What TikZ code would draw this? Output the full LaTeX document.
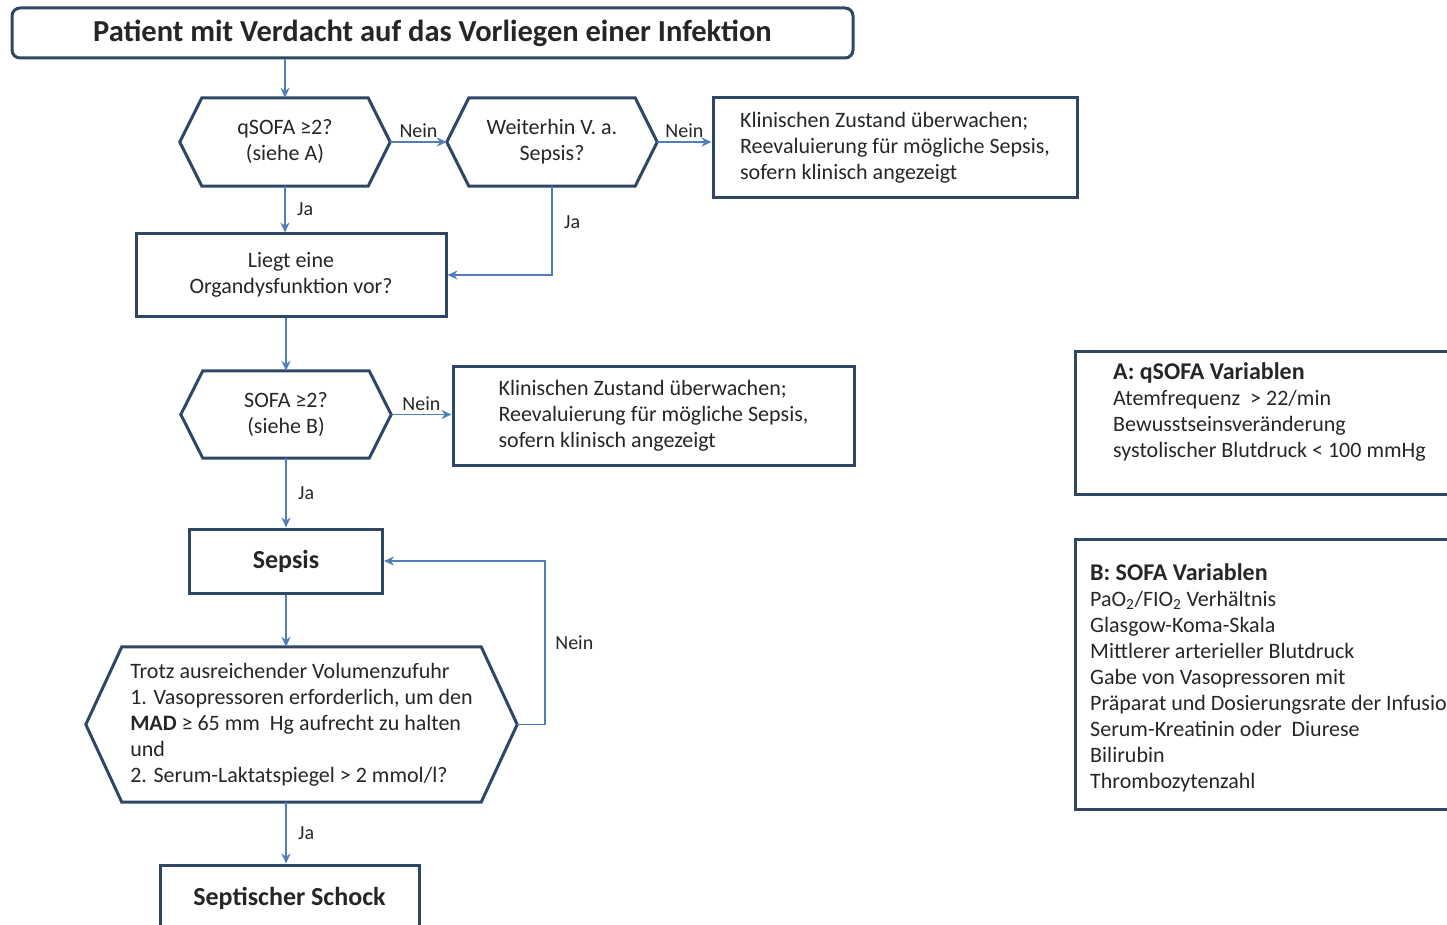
\documentclass[tikz,border=0pt]{standalone}
\usepackage{fontspec}
\setmainfont{Carlito}
\usetikzlibrary{arrows,arrows.meta,positioning}
\definecolor{framecol}{HTML}{2E4765}
\definecolor{flowcol}{HTML}{4F7FB8}
\definecolor{inkcol}{HTML}{262626}
\tikzstyle{flow} = [line width=1.6pt,->,>={Stealth[length=10pt,width=9pt]},draw=flowcol]
\tikzstyle{box} = [draw=framecol, line width=3pt, rectangle, text=inkcol, align=center, inner sep=0pt]
\tikzstyle{hexnode} = [rectangle, inner sep=0pt, text=inkcol, align=center]
\tikzstyle{lbl} = [text=inkcol, font=\fontsize{20}{24}\selectfont]
\newcommand{\hexframe}[2]{%
  \draw[draw=framecol, line width=3pt, line join=miter] (#1.west) -- ([xshift=#2]#1.north west) -- ([xshift=-#2]#1.north east) -- (#1.east) -- ([xshift=-#2]#1.south east) -- ([xshift=#2]#1.south west) -- cycle;}

\begin{document}
\begin{tikzpicture}[x=1pt, y=-1pt, font=\fontsize{22}{26}\selectfont]

	\useasboundingbox (0,0) rectangle (1447,925);
	\clip (0,0) rectangle (1447,925);

	\node[box, rounded corners=8pt, minimum width=841, minimum height=50, font=\fontsize{30.5}{34}\selectfont\bfseries] (patient) at (432.5,33) {Patient mit Verdacht auf das Vorliegen einer Infektion};

	\node[hexnode, minimum width=210, minimum height=88] (qsofa) at (285,142) {qSOFA ≥2?\\(siehe A)};
	\hexframe{qsofa}{22pt}
	\node[hexnode, minimum width=210, minimum height=88] (weiter) at (552,142) {Weiterhin V. a.\\Sepsis?};
	\hexframe{weiter}{22pt}
	\node[box, align=left, minimum width=364, minimum height=100] (watch1) at (895,148) {Klinischen Zustand überwachen;\\Reevaluierung für mögliche Sepsis,\\sofern klinisch angezeigt};

	\node[box, minimum width=310, minimum height=82] (organ) at (291,275) {Liegt eine\\Organdysfunktion vor?};

	\node[hexnode, minimum width=210, minimum height=87] (sofa) at (286,414.5) {SOFA ≥2?\\(siehe B)};
	\hexframe{sofa}{22pt}
	\node[box, align=left, minimum width=401, minimum height=99] (watch2) at (653.5,415.5) {Klinischen Zustand überwachen;\\Reevaluierung für mögliche Sepsis,\\sofern klinisch angezeigt};

	\node[box, minimum width=193, minimum height=64, font=\fontsize{26}{30}\selectfont\bfseries] (sepsis) at (286,561) {Sepsis};

	\node[hexnode, align=left, minimum width=431, minimum height=155] (volume) at (301.5,724.5) {Trotz ausreichender Volumenzufuhr\\1. Vasopressoren erforderlich, um den\\\textbf{MAD} ≥ 65 mm\ \ Hg aufrecht zu halten\\und\\2. Serum-Laktatspiegel > 2 mmol/l?};
	\hexframe{volume}{36pt}

	\node[box, minimum width=259, minimum height=66, font=\fontsize{26}{30}\selectfont\bfseries] (shock) at (289.5,898) {Septischer Schock};

	% legend boxes
	\node[box, minimum width=415, minimum height=143] (qvar) at (1282.5,422.5) {};
	\node[anchor=north west, align=left, inner sep=0pt, text=inkcol] (qvartext) at (1113,362) {{\fontsize{24}{26}\selectfont\bfseries A: qSOFA Variablen}\\Atemfrequenz\ \ > 22/min\\Bewusstseinsveränderung\\systolischer Blutdruck < 100 mmHg};

	\node[box, minimum width=415, minimum height=270] (svar) at (1282.5,674) {};
	\node[anchor=north west, align=left, inner sep=0pt, text=inkcol] (svartext) at (1090,563) {{\fontsize{24}{26}\selectfont\bfseries B: SOFA Variablen}\\PaO\textsubscript{2}/FIO\textsubscript{2} Verhältnis\\Glasgow-Koma-Skala\\Mittlerer arterieller Blutdruck\\Gabe von Vasopressoren mit\\Präparat und Dosierungsrate der Infusion\\Serum-Kreatinin oder\ \ Diurese\\Bilirubin\\Thrombozytenzahl};

	\draw[flow] (patient.south -| qsofa.north) -- (qsofa.north);
	\draw[flow] (qsofa.east) -- node[lbl, above]{Nein} (weiter.west);
	\draw[flow] (weiter.east) -- node[lbl, above]{Nein} (weiter.east -| watch1.west);
	\draw[flow] (qsofa.south) -- node[lbl, right, xshift=8pt]{Ja} (qsofa.south |- organ.north);
	\draw[flow] (weiter.south) |- node[lbl, pos=0.2, right, xshift=8pt]{Ja} (organ.east);
	\draw[flow] (organ.south -| sofa.north) -- (sofa.north);
	\draw[flow] (sofa.east) -- node[lbl, above]{Nein} (sofa.east -| watch2.west);
	\draw[flow] (sofa.south) -- node[lbl, right, xshift=8pt]{Ja} (sepsis.north);
	\draw[flow] (sepsis.south) -- (sepsis.south |- volume.north);
	\draw[flow] (volume.east) -- ++(28,0) |- node[lbl, pos=0.25, right, xshift=6pt]{Nein} (sepsis.east);
	\draw[flow] (volume.south -| sepsis.south) -- node[lbl, right, xshift=8pt]{Ja} (shock.north -| sepsis.south);

\end{tikzpicture}
\end{document}
